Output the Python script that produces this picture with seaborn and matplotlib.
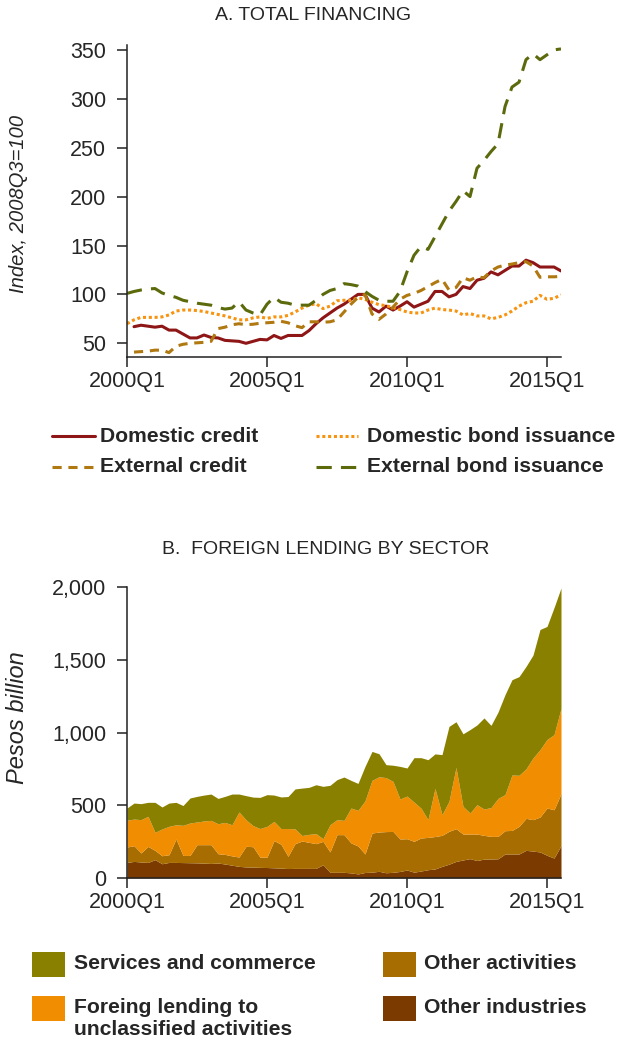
import numpy as np
import pandas as pd
import matplotlib
matplotlib.use("Agg")
import matplotlib.pyplot as plt
from matplotlib.lines import Line2D
from matplotlib.patches import Rectangle
from matplotlib.ticker import FuncFormatter
import seaborn as sns

# Quarterly periods, 2000Q1 to 2015Q3
quarters = [f"{2000 + k // 4}Q{k % 4 + 1}" for k in range(63)]
tick_quarters = ["2000Q1", "2005Q1", "2010Q1", "2015Q1"]

nan = np.nan

# Panel A: total financing indices (2008Q3 = 100)
domestic_credit = [nan, 67, 68.5, 67.5, 66.5, 67.5, 63.5, 63.5, 59.5, 55.5,
                   55.5, 58.5, 56, 55.5, 53, 52.5, 52, 50, 52, 54,
                   53.5, 58, 55, 58, 58, 58, 63, 70, 76, 81,
                   86, 90, 95, 100, 100, 86, 82, 88, 84, 88,
                   92.5, 87, 90, 93, 103, 103, 97.5, 100, 108, 106,
                   114.5, 116.5, 123, 120, 124.5, 129, 129, 135, 132.5, 128,
                   128, 128, 124]
domestic_bonds = [70, 74, 76.5, 76.5, 76.5, 77, 79, 83, 84, 84,
                  83.5, 82.5, 81, 79.5, 78, 76, 74, 74, 76, 77,
                  75.5, 77, 77, 78.5, 82, 86, 89, 90.5, 85.5, 88,
                  93.5, 94, 94, 96.5, 95, 92, 89.5, 88.5, 86.5, 84.5,
                  82, 81, 81, 84, 86, 84.5, 84, 83, 79, 80.5,
                  78, 78, 75, 76.5, 79, 83, 88, 91.5, 93, 99,
                  95, 96, 99.5]
external_credit = [nan, 41, 41.5, 42, 43, 43, 40.5, 47, 49, 50,
                   50.5, 51, 52, 65, 66.5, 69, 70, 69, 69.5, 70.5,
                   71, 71.5, 72.5, 71, 68, 66, 72, 72, 71.5, 72,
                   74, 82, 90, 97, 100, 80, 74.5, 80, 87, 95,
                   99, 101, 104, 108, 112, 115.5, 104.5, 107, 117, 114.5,
                   118, 117, 124, 128, 130, 131, 132.5, 133.5, 129, 117.5,
                   118, 118, 118.5]
external_bonds = [101, 103, 104.5, 105.5, 106, 101.5, 99, 97, 94, 92.5,
                  91, 90, 89, 86.5, 85, 86, 92.5, 84, 81, 79,
                  90, 97, 92, 91, 89, 89, 89, 94, 100, 104,
                  106, 111, 110, 108.5, 103, 98, 94, 93, 93, 103,
                  123, 140, 149, 146, 159, 172, 185, 195, 206, 200,
                  229, 237, 246, 254, 292, 312, 317, 340, 346, 340,
                  345, 350, 351]

# Panel B: foreign lending by sector, pesos billion
other_industries = [107, 114, 110, 107, 126, 98, 107, 107, 106, 105,
                    104, 102, 100, 103, 96, 88, 80, 76, 75, 73,
                    72, 70, 68, 65, 66, 66, 66, 66, 91, 39,
                    39, 39, 35, 28, 38, 40, 46, 36, 39, 45,
                    55, 40, 48, 57, 62, 80, 95, 114, 124, 133,
                    120, 130, 130, 132, 165, 165, 165, 190, 185, 179,
                    156, 137, 222]
other_activities = [106, 108, 62, 110, 64, 55, 53, 161, 49, 50,
                    125, 127, 129, 64, 66, 64, 64, 142, 140, 70,
                    71, 187, 164, 84, 170, 188, 179, 170, 161, 140,
                    259, 259, 206, 192, 127, 269, 270, 283, 281, 223,
                    215, 212, 227, 222, 223, 213, 226, 225, 178, 169,
                    182, 163, 156, 154, 160, 162, 190, 220, 216, 240,
                    325, 332, 357]
unclassified_activities = [184, 183, 229, 207, 124, 184, 195, 98, 207, 223,
                           156, 163, 167, 206, 220, 214, 310, 182, 145, 197,
                           212, 132, 108, 191, 102, 38, 55, 69, 18, 187,
                           103, 98, 240, 245, 365, 362, 380, 371, 344, 275,
                           293, 270, 205, 122, 331, 142, 206, 421, 190, 145,
                           202, 181, 198, 261, 248, 381, 351, 340, 424, 463,
                           471, 516, 586]
services_commerce = [84, 110, 110, 96, 206, 151, 160, 154, 136, 172,
                     176, 178, 181, 174, 179, 211, 123, 166, 196, 214,
                     218, 181, 217, 220, 274, 326, 323, 336, 360, 271,
                     275, 298, 190, 185, 237, 199, 158, 89, 111, 224,
                     193, 305, 347, 412, 237, 413, 515, 314, 499, 573,
                     548, 626, 565, 593, 687, 655, 678, 704, 707, 826,
                     777, 873, 828]

# ---- styles ----
line_names = ["Domestic credit", "Domestic bond issuance",
              "External credit", "External bond issuance"]
line_colors = {"Domestic credit": "#8e1616",
               "Domestic bond issuance": "#f7930f",
               "External credit": "#b07810",
               "External bond issuance": "#5c6a0c"}
line_dashes = {"Domestic credit": "",
               "Domestic bond issuance": (1, 0.9),
               "External credit": (3, 2.2),
               "External bond issuance": (5, 3)}
line_width = 2.2

sector_names = ["Other industries", "Other activities",
                "Foreing lending to\nunclassified activities",
                "Services and commerce"]
sector_colors = ["#7b3b00", "#a86d00", "#f18d00", "#8a8000"]

sns.set_style("ticks")
plt.rcParams["font.family"] = ["Liberation Sans", "DejaVu Sans"]

W, H = 619, 1046
fig = plt.figure(figsize=(W / 100, H / 100), dpi=100)


def fx(px):
    return px / W


def fy(py):
    return 1 - py / H


ax1 = fig.add_axes([fx(127), fy(357), 434 / W, 312 / H])
ax2 = fig.add_axes([fx(127), fy(878), 434 / W, 291 / H])

periods = np.arange(len(quarters))
tick_pos = [quarters.index(q) for q in tick_quarters]

# ---- Panel A ----
panel_a = pd.DataFrame({
    "Domestic credit": domestic_credit,
    "Domestic bond issuance": domestic_bonds,
    "External credit": external_credit,
    "External bond issuance": external_bonds,
})
panel_a["period"] = periods
long_a = panel_a.melt(id_vars="period", var_name="series", value_name="value")
long_a = long_a.dropna()

sns.lineplot(data=long_a, x="period", y="value", hue="series", style="series",
             hue_order=line_names, style_order=line_names,
             palette=line_colors, dashes=line_dashes, linewidth=line_width,
             errorbar=None, legend=False, ax=ax1)
ax1.set_ylim(36, 355)
ax1.set_yticks([50, 100, 150, 200, 250, 300, 350])
ax1.set_ylabel("Index, 2008Q3=100", fontsize=14.5, style="italic")
ax1.yaxis.set_label_coords(-0.228, 0.49)

# ---- Panel B ----
ax2.stackplot(periods, other_industries, other_activities,
              unclassified_activities, services_commerce,
              colors=sector_colors, linewidth=0)
ax2.set_ylim(0, 2000)
ax2.set_yticks([0, 500, 1000, 1500, 2000])
ax2.yaxis.set_major_formatter(FuncFormatter(lambda v, p: f"{v:,.0f}"))
ax2.set_ylabel("Pesos billion", fontsize=17, style="italic")
ax2.yaxis.set_label_coords(-0.226, 0.55)

for ax in (ax1, ax2):
    sns.despine(ax=ax)
    for side in ("left", "bottom"):
        ax.spines[side].set_linewidth(1.1)
        ax.spines[side].set_color("#222222")
    ax.set_xlim(0, 62)
    ax.set_xticks(tick_pos)
    ax.set_xticklabels(tick_quarters)
    ax.set_xlabel("")
    ax.tick_params(direction="out", length=7, width=1.1, color="#222222",
                   labelsize=15.5, pad=3)
    ax.tick_params(axis="y", pad=8)

fig.text(fx(313), fy(15), "A. TOTAL FINANCING", ha="center", va="center",
         fontsize=14)
fig.text(fx(326), fy(549), "B.  FOREIGN LENDING BY SECTOR", ha="center",
         va="center", fontsize=14)

# ---- Legend, panel A ----
legend_a = [("Domestic credit", 52, 95, 100, 436),
            ("External credit", 52, 95, 100, 467),
            ("Domestic bond issuance", 316, 358, 367, 436),
            ("External bond issuance", 316, 358, 367, 467)]
for name, x0, x1, xt, y in legend_a:
    kw = dict(color=line_colors[name], linewidth=line_width,
              transform=fig.transFigure)
    if line_dashes[name]:
        kw["dashes"] = line_dashes[name]
    fig.add_artist(Line2D([fx(x0), fx(x1)], [fy(y), fy(y)], **kw))
    fig.text(fx(xt), fy(y), name, ha="left", va="center", fontsize=15.2,
             fontweight="bold")

# ---- Legend, panel B ----
legend_b = [(3, 32, 952, 74, 964),
            (2, 32, 996, 74, 1008),
            (1, 383, 952, 424, 964),
            (0, 383, 996, 424, 1008)]
for k, x0, y0, xt, yt in legend_b:
    fig.add_artist(Rectangle((fx(x0), fy(y0 + 25)), 33 / W, 25 / H,
                             facecolor=sector_colors[k], edgecolor="none",
                             transform=fig.transFigure))
    fig.text(fx(xt), fy(yt - 10), sector_names[k], ha="left", va="top",
             fontsize=15.2, fontweight="bold", linespacing=1.22)

fig.savefig("out.png", dpi=100)
